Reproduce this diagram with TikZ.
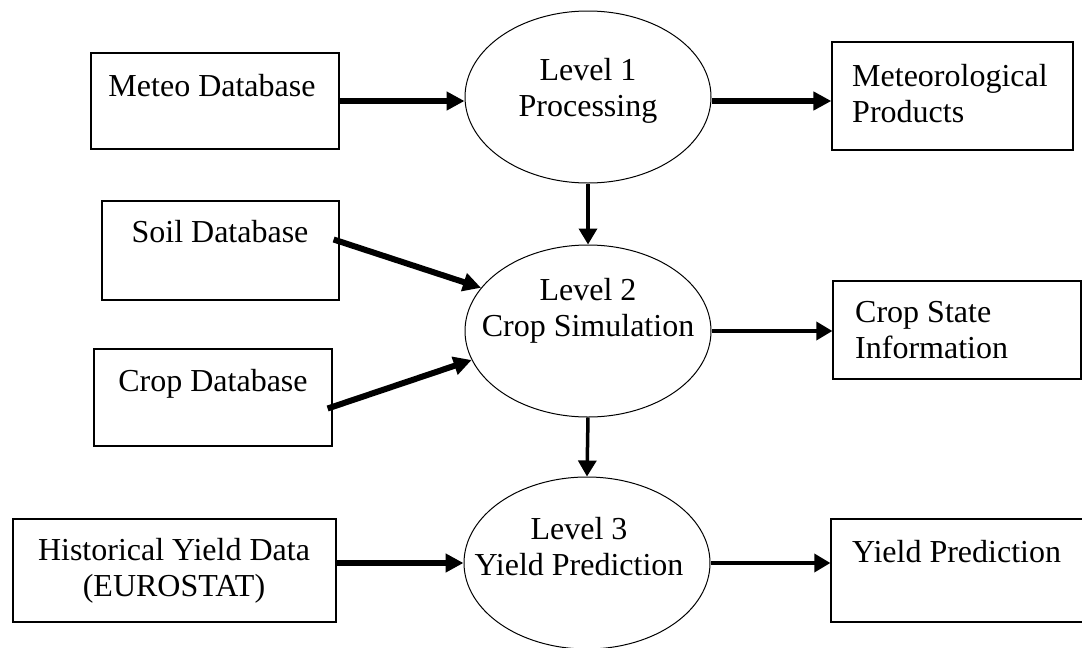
\documentclass[tikz,border=0pt]{standalone}
\usepackage{fontspec}
\setmainfont{Liberation Serif}
\usetikzlibrary{shapes.geometric,arrows.meta,calc}

\newcommand{\twolines}[3][c]{\begin{tabular}[t]{@{}#1@{}}#2\\#3\end{tabular}}

\tikzset{
  box/.style={draw, line width=1.3pt, inner sep=0pt},
  lvl/.style={draw, ellipse, line width=1pt, inner sep=0pt,
    minimum width=246pt, minimum height=172pt},
  txt/.style={inner sep=0pt, font=\fontsize{32}{36}\selectfont},
  fat/.style={-{Triangle[length=18pt,width=18pt]}, line width=6pt},
  slim/.style={-{Triangle[length=16pt,width=18pt]}, line width=3.5pt},
}

\begin{document}
\begin{tikzpicture}[x=1pt, y=-1pt]
  \useasboundingbox (0,0) rectangle (1082,648);
  \clip (0,0) rectangle (1082,648);
  % processing levels
  \node[lvl] (l1) at (588,97) {};
  \node[lvl] (l2) at (588,331) {};
  \node[lvl] (l3) at (587,563) {};
  \node[txt, anchor=base] (l1-txt) at (588,80) {\twolines{Level 1}{Processing}};
  \node[txt, anchor=base] (l2-txt) at (588,300) {\twolines{Level 2}{Crop Simulation}};
  \node[txt, anchor=base] (l3-txt) at (579,539) {\twolines{Level 3}{Yield Prediction}};
  % input boxes
  \node[box, minimum width=248pt, minimum height=96pt] (meteo) at (215,101) {};
  \node[box, minimum width=237pt, minimum height=99pt] (soil) at (220.5,250.5) {};
  \node[box, minimum width=238pt, minimum height=97pt] (cropdb) at (213,397.5) {};
  \node[box, minimum width=323pt, minimum height=103pt] (hist) at (174.5,570.5) {};
  \node[txt, anchor=base] (meteo-txt) at (212,96) {Meteo Database};
  \node[txt, anchor=base] (soil-txt) at (220,242) {Soil Database};
  \node[txt, anchor=base] (cropdb-txt) at (213,391) {Crop Database};
  \node[txt, anchor=base] (hist-txt) at (174,560) {\twolines{Historical Yield Data}{(EUROSTAT)}};
  % output boxes
  \node[box, minimum width=241pt, minimum height=108pt] (metprod) at (952.5,96) {};
  \node[box, minimum width=248pt, minimum height=98pt] (cropstate) at (957,330) {};
  \node[box, minimum width=269pt, minimum height=103pt] (yield) at (965.5,570.5) {};
  \node[txt, anchor=base west] (metprod-txt) at (852,86) {\twolines[l]{Meteorological}{Products}};
  \node[txt, anchor=base west] (cropstate-txt) at (855,322) {\twolines[l]{Crop State}{Information}};
  \node[txt, anchor=base west] (yield-txt) at (852,562) {Yield Prediction};
  % flows
  \draw[fat] (meteo.east) -- (meteo.east -| l1.west);
  \draw[fat] (l1.east |- meteo.east) -- (metprod.west |- meteo.east);
  \draw[slim] (l1.south) -- (l2.north);
  \draw[fat] ($(soil.east)+(-6,-11)$) -- (l2.158);
  \draw[fat] ($(cropdb.east)+(-5,11)$) -- (l2.194);
  \draw[slim] (l2.east) -- (l2.east -| cropstate.west);
  \draw[slim] (l2.south) -- (l3.north);
  \draw[fat] (l3.west -| hist.east) -- (l3.west);
  \draw[slim] (l3.east) -- (l3.east -| yield.west);
\end{tikzpicture}
\end{document}
